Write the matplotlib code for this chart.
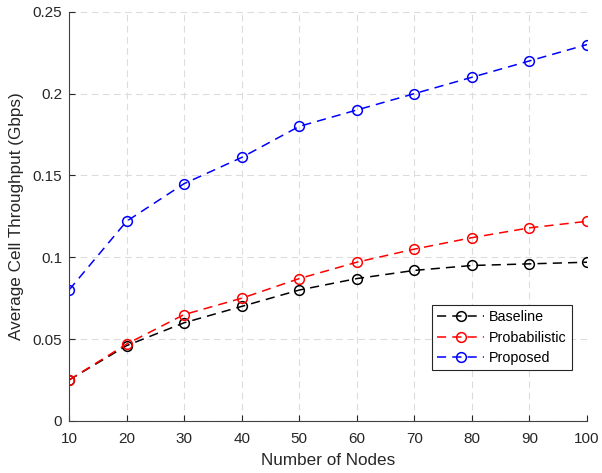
import matplotlib
matplotlib.use("Agg")
import matplotlib.pyplot as plt

plt.rcParams['font.family'] = ['Liberation Sans', 'DejaVu Sans']

nodes = [10, 20, 30, 40, 50, 60, 70, 80, 90, 100]
baseline = [0.025, 0.046, 0.060, 0.070, 0.080, 0.087, 0.092, 0.095, 0.096, 0.097]
probabilistic = [0.025, 0.047, 0.065, 0.075, 0.087, 0.097, 0.105, 0.112, 0.118, 0.122]
proposed = [0.080, 0.122, 0.145, 0.161, 0.180, 0.190, 0.200, 0.210, 0.220, 0.230]

fig = plt.figure(figsize=(6.02, 4.73), dpi=100)
ax = fig.add_axes([0.1146, 0.110, 0.8605, 0.865])

style = dict(linestyle=(0, (6, 4)), marker='o', markersize=7, markerfacecolor='none',
             linewidth=1.1, markeredgewidth=1.1)
ax.plot(nodes, baseline, color='black', label='Baseline', **style)
ax.plot(nodes, probabilistic, color='red', label='Probabilistic', **style)
ax.plot(nodes, proposed, color='blue', label='Proposed', **style)

ax.set_xlim(10, 100)
ax.set_ylim(0, 0.25)
ax.set_xticks(nodes)
ax.set_yticks([0, 0.05, 0.1, 0.15, 0.2, 0.25])
ax.set_yticklabels(['0', '0.05', '0.1', '0.15', '0.2', '0.25'])
ax.grid(True, linestyle=(0, (6, 4)), color='#dcdcdc', linewidth=0.8)
ax.set_axisbelow(True)
for side in ['top', 'right']:
    ax.spines[side].set_visible(False)
for side in ['left', 'bottom']:
    ax.spines[side].set_color('#404040')
ax.tick_params(direction='in', length=4, colors='#262626', labelsize=11)
ax.tick_params(axis='x', pad=8)
ax.tick_params(axis='y', pad=5)
ax.set_xlabel('Number of Nodes', fontsize=12.3, color='#262626', labelpad=5)
ax.set_ylabel('Average Cell Throughput (Gbps)', fontsize=12.3, color='#262626', labelpad=6)

leg = ax.legend(loc='lower right', bbox_to_anchor=(0.971, 0.1246), borderaxespad=0,
                fontsize=10.3, fancybox=False, framealpha=1, edgecolor='#262626',
                handlelength=3.3, borderpad=0.35, labelspacing=0.45, handletextpad=0.35)
leg.get_frame().set_linewidth(0.8)

fig.savefig('out.png', dpi=100)
